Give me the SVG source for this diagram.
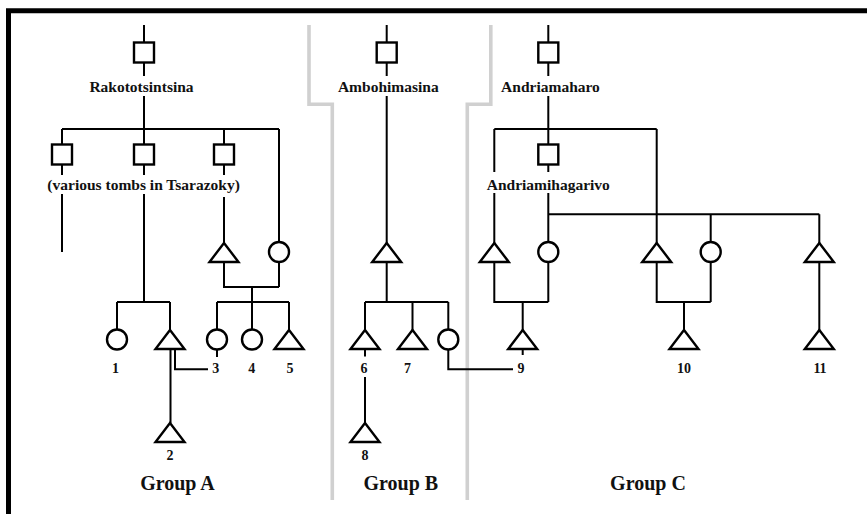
<svg xmlns="http://www.w3.org/2000/svg" xmlns:xlink="http://www.w3.org/1999/xlink" width="867" height="514" viewBox="0 0 867 514">
<style>
.ln{fill:none;stroke:#000;stroke-width:2}
.sym{fill:#fff;stroke:#000;stroke-width:2.4}
.div{fill:none;stroke:#d0d0d0;stroke-width:3.6}
.frame{fill:none;stroke:#000;stroke-width:5}
text{font-family:"Liberation Serif","Times New Roman",serif;font-weight:bold;fill:#111;text-anchor:middle}
.nm{font-size:15.5px}
.num{font-size:14px}
.grp{font-size:20px}
</style>
<defs>
<rect id="sq" x="-10" y="-10" width="20" height="20"/>
<circle id="ci" cx="0" cy="0" r="10"/>
<path id="tri" d="M0,0 L14.5,19 L-14.5,19 Z"/>
</defs>
<rect width="867" height="514" fill="#fff"/>
<path class="frame" d="M8.5,514 V10.8 H867"/>
<g id="dividers">
<path class="div" d="M309,25 V104.3 H332.3 V500"/>
<path class="div" d="M490.8,25 V104.3 H467.3 V500"/>
</g>
<g id="connectors" class="ln">
<!-- Group A -->
<path d="M144,25 V42.5 M144,62.5 V76 M144,96 V129"/>
<path d="M62,129 H279 M62,129 V144.5 M144,129 V144.5 M224,129 V144.5 M279,129 V242"/>
<path d="M62,164.5 V175 M144,164.5 V175 M224,164.5 V175"/>
<path d="M62,194 V252 M144,194 V302 M224,197 V243"/>
<path d="M224,261.5 V287 H279 M279,262 V287 M252,287 V302"/>
<path d="M217,302 H289 M217,302 V329.5 M252,302 V329.5 M289,302 V330"/>
<path d="M117,302 H170 M117,302 V329.5 M170,302 V330"/>
<path d="M170.5,349 V423 M175,349 V369.3 H208 M217,349.5 V357"/>
<!-- Group B -->
<path d="M386.7,25 V42.5 M386.7,62.5 V76 M386.7,96 V243"/>
<path d="M386.7,261.5 V302 M365,302 H448.3 M365,302 V330 M412.5,302 V330 M448.3,302 V329.5"/>
<path d="M365,349 V356.5 M365,377 V423"/>
<path d="M448.3,349.5 V369.3 H513"/>
<!-- Group C -->
<path d="M548.3,25 V42.5 M548.3,62.5 V76 M548.3,96 V144.5"/>
<path d="M494.3,129 H656.7 M494.3,129 V172 M494.3,193 V243 M656.7,129 V243"/>
<path d="M548.3,164.5 V172 M548.3,193 V242"/>
<path d="M548.3,214.3 H819.3 M710.7,214.3 V242 M819.3,214.3 V243"/>
<path d="M494.3,261.5 V302 H548.3 M548.3,262 V302 M522.7,302 V330 M522.7,349 V355"/>
<path d="M656.7,261.5 V302 H710.7 M710.7,262 V302 M684,302 V330"/>
<path d="M819.3,261.5 V330"/>
</g>
<g id="groupA">
<g id="rakototsintsina"><use href="#sq" class="sym" x="144" y="52.5"/><text class="nm" x="141.5" y="91.5">Rakototsintsina</text></g>
<g id="tombA1"><use href="#sq" class="sym" x="62" y="154.5"/></g>
<g id="tombA2"><use href="#sq" class="sym" x="144" y="154.5"/><text class="nm" x="143.6" y="189.5">(various tombs in Tsarazoky)</text></g>
<g id="tombA3"><use href="#sq" class="sym" x="224" y="154.5"/></g>
<g id="a_father"><use href="#tri" class="sym" x="224" y="243"/></g>
<g id="a_mother"><use href="#ci" class="sym" x="279" y="252"/></g>
<g id="p1"><use href="#ci" class="sym" x="117" y="339.5"/><text class="num" x="115.5" y="373">1</text></g>
<g id="a_son"><use href="#tri" class="sym" x="170" y="330"/></g>
<g id="p3"><use href="#ci" class="sym" x="217" y="339.5"/><text class="num" x="215.7" y="373">3</text></g>
<g id="p4"><use href="#ci" class="sym" x="252" y="339.5"/><text class="num" x="251.7" y="373">4</text></g>
<g id="p5"><use href="#tri" class="sym" x="289" y="330"/><text class="num" x="290" y="373">5</text></g>
<g id="p2"><use href="#tri" class="sym" x="170" y="423"/><text class="num" x="170" y="460">2</text></g>
<text class="grp" x="177.5" y="490">Group A</text>
</g>
<g id="groupB">
<g id="ambohimasina"><use href="#sq" class="sym" x="386.7" y="52.5"/><text class="nm" x="388.3" y="91.5">Ambohimasina</text></g>
<g id="b_father"><use href="#tri" class="sym" x="386.7" y="243"/></g>
<g id="p6"><use href="#tri" class="sym" x="365" y="330"/><text class="num" x="364" y="373">6</text></g>
<g id="p7"><use href="#tri" class="sym" x="412.5" y="330"/><text class="num" x="407.5" y="373">7</text></g>
<g id="b_daughter"><use href="#ci" class="sym" x="448.3" y="339.5"/></g>
<g id="p8"><use href="#tri" class="sym" x="365" y="423"/><text class="num" x="365" y="460">8</text></g>
<text class="grp" x="400.8" y="490">Group B</text>
</g>
<g id="groupC">
<g id="andriamaharo"><use href="#sq" class="sym" x="548.3" y="52.5"/><text class="nm" x="550.5" y="91.5">Andriamaharo</text></g>
<g id="andriamihagarivo"><use href="#sq" class="sym" x="548.3" y="154.5"/><text class="nm" x="548.3" y="189.5">Andriamihagarivo</text></g>
<g id="c_m1"><use href="#tri" class="sym" x="494.3" y="243"/></g>
<g id="c_f1"><use href="#ci" class="sym" x="548.3" y="252"/></g>
<g id="c_m2"><use href="#tri" class="sym" x="656.7" y="243"/></g>
<g id="c_f2"><use href="#ci" class="sym" x="710.7" y="252"/></g>
<g id="c_m3"><use href="#tri" class="sym" x="819.3" y="243"/></g>
<g id="p9"><use href="#tri" class="sym" x="522.7" y="330"/><text class="num" x="521" y="373">9</text></g>
<g id="p10"><use href="#tri" class="sym" x="684" y="330"/><text class="num" x="684" y="373">10</text></g>
<g id="p11"><use href="#tri" class="sym" x="819.3" y="330"/><text class="num" x="820" y="373">11</text></g>
<text class="grp" x="648" y="490">Group C</text>
</g>
</svg>
